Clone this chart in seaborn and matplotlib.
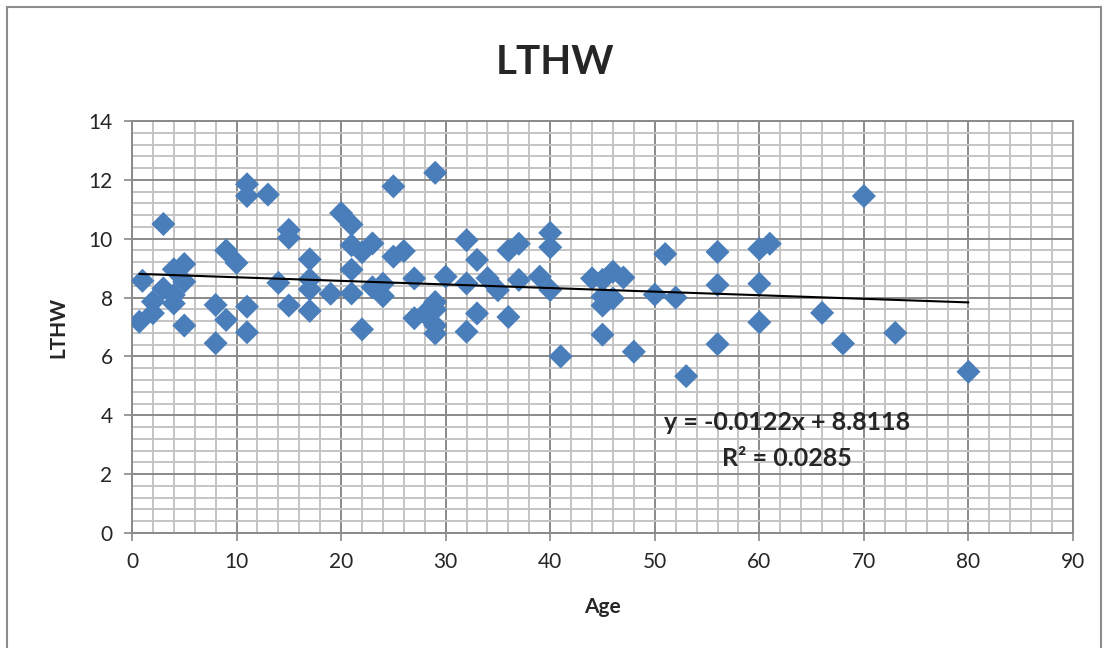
import numpy as np
import pandas as pd
import matplotlib
matplotlib.use("Agg")
import matplotlib.pyplot as plt
import seaborn as sns
from matplotlib.patches import Rectangle
from matplotlib.ticker import MultipleLocator

age = [0.7, 1, 2, 2, 3, 3, 4, 4, 4, 5, 5, 5, 8, 8, 9, 9, 10, 11, 11, 11, 11,
       13, 14, 15, 15, 15, 17, 17, 17, 17, 19, 20, 21, 21, 21, 21, 22, 22,
       23, 23, 24, 24, 25, 25, 26, 27, 27, 28, 29, 29, 29, 29, 29, 30, 32,
       32, 32, 33, 33, 34, 35, 36, 36, 37, 37, 39, 40, 40, 40, 41, 44, 45,
       45, 45, 45, 46, 46, 47, 48, 50, 51, 52, 53, 56, 56, 56, 60, 60, 60,
       61, 66, 68, 70, 73, 80]
lthw = [7.18, 8.57, 7.47, 7.86, 10.5, 8.31, 8.96, 8.09, 7.8, 9.14, 8.54, 7.05,
        7.75, 6.45, 9.6, 7.24, 9.18, 11.85, 11.45, 7.69, 6.82, 11.5, 8.5,
        10.3, 10.03, 7.73, 9.3, 8.62, 8.28, 7.55, 8.13, 10.87, 10.48, 9.78,
        8.95, 8.14, 9.54, 6.92, 9.84, 8.35, 8.47, 8.05, 11.78, 9.39, 9.58,
        8.65, 7.3, 7.46, 12.24, 7.85, 7.6, 7.05, 6.78, 8.71, 9.95, 8.48, 6.84,
        9.28, 7.46, 8.66, 8.25, 9.6, 7.34, 9.83, 8.6, 8.71, 10.2, 9.71, 8.26,
        6.0, 8.65, 8.6, 8.03, 7.73, 6.74, 8.88, 7.97, 8.68, 6.16, 8.1, 9.48,
        8.0, 5.33, 9.55, 8.43, 6.42, 9.65, 8.47, 7.16, 9.83, 7.48, 6.44,
        11.45, 6.8, 5.48]
slope = -0.0122
intercept = 8.8118
r_squared = 0.0285
x_ticks = [0, 10, 20, 30, 40, 50, 60, 70, 80, 90]
y_ticks = [0, 2, 4, 6, 8, 10, 12, 14]

df = pd.DataFrame({"Age": age, "LTHW": lthw})

sns.set_style("white")
plt.rcParams['font.family'] = ['Lato', 'DejaVu Sans']

fig = plt.figure(figsize=(11.08, 6.48), dpi=100)
ax = fig.add_axes([132/1108, 1 - 533/648, (1073-132)/1108, (533-121)/648])

# outer chart border
fig.patches.append(Rectangle((7/1108, -0.01), (1101-7)/1108, 1 - 7/648 + 0.01,
                             transform=fig.transFigure, fill=False,
                             edgecolor='#8c8c8c', linewidth=1.5))

ax.set_xlim(0, 90)
ax.set_ylim(0, 14)
ax.xaxis.set_minor_locator(MultipleLocator(2))
ax.yaxis.set_minor_locator(MultipleLocator(0.4))
ax.set_xticks(x_ticks)
ax.set_yticks(y_ticks)
ax.grid(which='minor', color='#c4c4c4', linewidth=1.4, zorder=0)
ax.grid(which='major', color='#8a8a8a', linewidth=1.4, zorder=0)
ax.set_axisbelow(True)

sns.scatterplot(data=df, x="Age", y="LTHW", marker='D', s=150,
                color='#4a7ebb', edgecolor='none', ax=ax, zorder=3)

xs = np.array([min(age), max(age)])
ax.plot(xs, slope * xs + intercept, color='black', linewidth=1.5, zorder=4)

for side in ['left', 'bottom', 'right', 'top']:
    ax.spines[side].set_visible(True)
    ax.spines[side].set_color('#8a8a8a')
    ax.spines[side].set_linewidth(1.4)

ax.tick_params(axis='both', which='major', length=6, width=1.2, color='#8a8a8a',
               labelsize=15, pad=8, direction='out')
ax.tick_params(axis='both', which='minor', length=0)
ax.tick_params(axis='x', bottom=True)
ax.tick_params(axis='y', left=True)

ax.set_xlabel("Age", fontsize=15, fontweight='bold', labelpad=18)
ax.set_ylabel("LTHW", fontsize=15, fontweight='bold', labelpad=14)
fig.text(555/1108, 1 - 62/648, "LTHW", fontsize=29, fontweight='bold',
         ha='center', va='center')

eq = f"y = {slope}x + {intercept}"
fig.text(787/1108, 1 - 423/648, eq, fontsize=18,
         fontweight='bold', ha='center', va='center', zorder=5)
fig.text(787/1108, 1 - 459/648, f"R² = {r_squared}",
         fontsize=18, fontweight='bold', ha='center', va='center', zorder=5)

fig.savefig("out.png", dpi=100)
